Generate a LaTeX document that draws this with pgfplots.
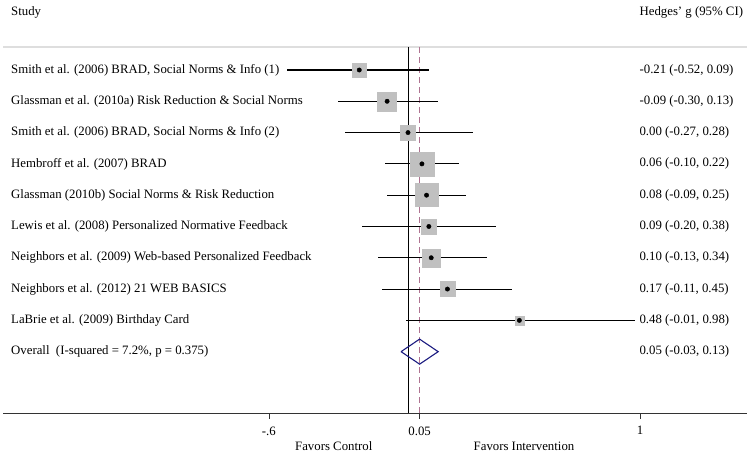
\documentclass[border=0pt]{standalone}
\usepackage{pgfplots}
\pgfplotsset{compat=1.18}
\usepackage{pgfplotstable}
\usepackage{fontspec}
\setmainfont{Liberation Serif}
\definecolor{boxgray}{RGB}{192,192,192}
\definecolor{rulegray}{RGB}{222,222,222}
\definecolor{navyd}{RGB}{26,26,128}
\definecolor{mauve}{RGB}{175,115,145}

\pgfplotstableread{
est lo hi y bs
-0.21 -0.52 0.09 10 7
-0.09 -0.30 0.13 9 9.5
0.00 -0.27 0.28 8 7.5
0.06 -0.10 0.22 7 12
0.08 -0.09 0.25 6 11.5
0.09 -0.20 0.38 5 7.5
0.10 -0.13 0.34 4 9
0.17 -0.11 0.45 3 7.5
0.48 -0.01 0.98 2 4.5
}\studies

\begin{document}
\begin{tikzpicture}[font=\fontsize{12.8}{15}\selectfont, lab/.style={anchor=west, inner xsep=1pt}]
\path[use as bounding box] (0,0) rectangle (750pt,454pt);
\begin{axis}[at={(3pt,41pt)}, anchor=south west, scale only axis,
  width=744pt, height=366pt,
  xmin=-1.7457, xmax=1.4612, ymin=-0.96, ymax=10.735,
  axis x line=bottom, axis y line=none,
  x axis line style={-, line width=0.8pt, black!80},
  xtick={-0.6,0.05,1}, xticklabels={-.6,0.05,1},
  tick align=outside, major tick length=6pt,
  xtick style={black!80, line width=0.6pt},
  tick label style={font=\fontsize{12.8}{15}\selectfont},
  xticklabel style={yshift=-4pt},
  /pgf/number format/assume math mode=true,
  clip=false]
% top rule
\draw[rulegray, line width=2pt] (rel axis cs:0,1) -- (rel axis cs:1,1);
% reference lines
\addplot[black, line width=0.7pt] coordinates {(0,-0.96) (0,10.735)};
\addplot[mauve, line width=1pt, dash pattern=on 6pt off 4pt] coordinates {(0.05,-0.96) (0.05,10.85)};
% weight boxes
\addplot[scatter, only marks, mark=square*,
  scatter/use mapped color={draw=boxgray, fill=boxgray},
  visualization depends on={\thisrow{bs} \as \bsize},
  scatter/@pre marker code/.append style={/tikz/mark size=\bsize}]
  table[x=est, y=y] {\studies};
% confidence intervals
\addplot[draw=none, mark=none,
  error bars/.cd, x dir=both, x explicit, error mark=none,
  error bar style={black, line width=1.1pt}]
  table[x=est, y=y,
    x error plus expr=\thisrow{hi}-\thisrow{est},
    x error minus expr=\thisrow{est}-\thisrow{lo}] {\studies};
% point estimates
\addplot[only marks, mark=*, mark size=2.2pt, black] table[x=est, y=y] {\studies};
% overall diamond
\addplot[navyd, line width=1.1pt] coordinates {(-0.03,1) (0.05,1.4) (0.13,1) (0.05,0.6) (-0.03,1)};

% headers
\node[lab] at (axis cs:-1.7155,11.853) {Study};
\node[anchor=west] at (axis cs:0.983,11.853) {Hedges' g (95\% CI)};
% study labels
\node[lab] at (axis cs:-1.7155,10) {Smith et al. (2006) BRAD, Social Norms \& Info (1)};
\node[lab] at (axis cs:-1.7155,9) {Glassman et al. (2010a) Risk Reduction \& Social Norms};
\node[lab] at (axis cs:-1.7155,8) {Smith et al. (2006) BRAD, Social Norms \& Info (2)};
\node[lab] at (axis cs:-1.7155,7) {Hembroff et al. (2007) BRAD};
\node[lab] at (axis cs:-1.7155,6) {Glassman (2010b) Social Norms \& Risk Reduction};
\node[lab] at (axis cs:-1.7155,5) {Lewis et al. (2008) Personalized Normative Feedback};
\node[lab] at (axis cs:-1.7155,4) {Neighbors et al. (2009) Web-based Personalized Feedback};
\node[lab] at (axis cs:-1.7155,3) {Neighbors et al. (2012) 21 WEB BASICS};
\node[lab] at (axis cs:-1.7155,2) {LaBrie et al. (2009) Birthday Card};
\node[lab] at (axis cs:-1.7155,1) {Overall\ \ (I-squared = 7.2\%, p = 0.375)};
% effect sizes
\node[anchor=west] at (axis cs:0.983,10) {-0.21 (-0.52, 0.09)};
\node[anchor=west] at (axis cs:0.983,9) {-0.09 (-0.30, 0.13)};
\node[anchor=west] at (axis cs:0.983,8) {0.00 (-0.27, 0.28)};
\node[anchor=west] at (axis cs:0.983,7) {0.06 (-0.10, 0.22)};
\node[anchor=west] at (axis cs:0.983,6) {0.08 (-0.09, 0.25)};
\node[anchor=west] at (axis cs:0.983,5) {0.09 (-0.20, 0.38)};
\node[anchor=west] at (axis cs:0.983,4) {0.10 (-0.13, 0.34)};
\node[anchor=west] at (axis cs:0.983,3) {0.17 (-0.11, 0.45)};
\node[anchor=west] at (axis cs:0.983,2) {0.48 (-0.01, 0.98)};
\node[anchor=west] at (axis cs:0.983,1) {0.05 (-0.03, 0.13)};
% direction labels
\node at (axis cs:-0.32,-2.014) {Favors Control};
\node at (axis cs:0.5,-2.014) {Favors Intervention};
\end{axis}
\end{tikzpicture}
\end{document}
